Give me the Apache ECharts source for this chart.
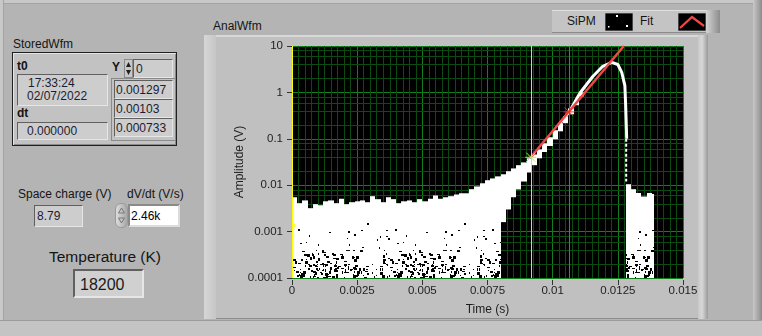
<!DOCTYPE html>
<html>
<head>
<meta charset="utf-8">
<script src="https://cdn.jsdelivr.net/npm/echarts@6.0.0/dist/echarts.min.js"></script>
<style>
*{box-sizing:border-box;}
html,body{margin:0;padding:0;}
body{width:762px;height:336px;position:relative;overflow:hidden;background:#b4b4b4;font-family:"Liberation Sans",Arial,sans-serif;font-size:12px;color:#141414;}
.a{position:absolute;}
.t{position:absolute;white-space:nowrap;line-height:14px;}
.b{font-weight:bold;}
.ind{position:absolute;background:#cdcdcd;border-top:1px solid #606060;border-left:1px solid #606060;border-bottom:1px solid #e6e6e6;border-right:1px solid #e6e6e6;}
.v{color:#1c1c34;}
#chart{position:absolute;left:0;top:0;width:762px;height:336px;}
</style>
</head>
<body>
<!-- panel frame -->
<div class="a" style="left:0;top:0;width:762px;height:4px;background:#c8c8c8;border-bottom:1px solid #a4a4a4;"></div>
<div class="a" style="left:0;top:0;width:4px;height:336px;background:#c8c8c8;border-right:1px solid #a4a4a4;"></div>
<div class="a" style="left:753px;top:0;width:9px;height:336px;background:linear-gradient(90deg,#c8c8c8,#8c8c8c);"></div>
<div class="a" style="left:0;top:320px;width:762px;height:16px;background:#c4c4c4;border-top:1px solid #9c9c9c;"></div>

<!-- StoredWfm cluster -->
<div class="t" style="left:13px;top:37px;">StoredWfm</div>
<div class="a" style="left:12px;top:52px;width:165px;height:94px;background:#c2c2c2;border:1px solid #202020;box-shadow:inset 1px 1px 0 #e4e4e4, inset -1px -1px 0 #8a8a8a;"></div>
<div class="t b" style="left:17px;top:59px;">t0</div>
<div class="ind" style="left:17px;top:74px;width:91px;height:32px;"></div>
<div class="t v" style="left:28px;top:76px;">17:33:24</div>
<div class="t v" style="left:27px;top:89px;">02/07/2022</div>
<div class="t b" style="left:17px;top:106px;">dt</div>
<div class="ind" style="left:17px;top:122px;width:91px;height:18px;"></div>
<div class="t v" style="left:27px;top:124px;">0.000000</div>
<div class="t b" style="left:112px;top:60px;">Y</div>
<div class="a" style="left:124px;top:59px;width:9px;height:19px;background:#c8c8c8;border:1px solid #8a8a8a;"></div>
<svg class="a" style="left:124px;top:59px;" width="9" height="19"><path d="M4.5 3L7 8H2Z M4.5 16L7 11H2Z" fill="#202020"/></svg>
<div class="ind" style="left:133px;top:59px;width:40px;height:19px;"></div>
<div class="t v" style="left:136px;top:62px;">0</div>
<div class="a" style="left:111px;top:78px;width:65px;height:63px;background:#c2c2c2;border:1px solid #8a8a8a;"></div>
<div class="ind" style="left:114px;top:80px;width:59px;height:19px;"></div>
<div class="ind" style="left:114px;top:99px;width:59px;height:19px;"></div>
<div class="ind" style="left:114px;top:118px;width:59px;height:19px;"></div>
<div class="t v" style="left:116px;top:83px;">0.001297</div>
<div class="t v" style="left:116px;top:102px;">0.00103</div>
<div class="t v" style="left:116px;top:121px;">0.000733</div>

<!-- Space charge / dV/dt -->
<div class="t" style="left:18px;top:187px;">Space charge (V)</div>
<div class="ind" style="left:34px;top:205px;width:49px;height:22px;"></div>
<div class="t v" style="left:37px;top:209px;">8.79</div>
<div class="t" style="left:127px;top:187px;">dV/dt (V/s)</div>
<div class="a" style="left:115px;top:203px;width:13px;height:25px;border-radius:6px;background:linear-gradient(90deg,#dcdcdc,#a8a8a8);border:1px solid #9a9a9a;"></div>
<svg class="a" style="left:115px;top:203px;" width="13" height="25"><path d="M6.5 5L9.5 10H3.5Z M6.5 20L9.5 15H3.5Z" fill="none" stroke="#7a7a7a" stroke-width="1"/></svg>
<div class="a" style="left:128px;top:204px;width:52px;height:23px;background:#fff;border-top:2px solid #8a8a8a;border-left:2px solid #8a8a8a;border-bottom:2px solid #dcdcdc;border-right:2px solid #dcdcdc;"></div>
<div class="t" style="left:131px;top:209px;color:#000;">2.46k</div>

<!-- Temperature -->
<div class="t" style="left:49px;top:248px;font-size:15.5px;line-height:18px;">Temperature (K)</div>
<div class="ind" style="left:73px;top:269px;width:71px;height:29px;background:#d0d0d0;border-width:2px;"></div>
<div class="t" style="left:80px;top:276px;font-size:16px;line-height:18px;color:#1a1a1a;">18200</div>

<!-- graph frame -->
<div class="t" style="left:213px;top:19px;">AnalWfm</div>
<div class="a" style="left:204px;top:35px;width:504px;height:284px;background:#c0c0c0;border-top:2px solid #d8d8d8;border-bottom:1px solid #8c8c8c;"></div>
<div class="a" style="left:204px;top:35px;width:12px;height:284px;background:linear-gradient(90deg,#d6d6d6,#c6c6c6);"></div>
<div class="a" style="left:698px;top:35px;width:10px;height:284px;background:linear-gradient(90deg,#c8c8c8,#d8d8d8 40%,#9a9a9a);"></div>

<!-- legend -->
<div class="a" style="left:552px;top:10px;width:168px;height:23px;background:#c4c4c4;border-top:1px solid #e0e0e0;border-bottom:1px solid #8c8c8c;"></div>
<div class="a" style="left:706px;top:10px;width:14px;height:23px;background:linear-gradient(90deg,#d4d4d4,#8c8c8c);"></div>
<div class="t" style="left:567px;top:14px;">SiPM</div>
<svg class="a" style="left:605px;top:13px;" width="28" height="18"><rect x="0" y="0" width="28" height="18" fill="#000" stroke="#8c8c8c"/><rect x="11" y="2" width="2" height="2" fill="#fff"/><rect x="3" y="13" width="1.5" height="1.5" fill="#fff"/><rect x="21" y="12" width="2" height="2" fill="#fff"/></svg>
<div class="t" style="left:640px;top:14px;">Fit</div>
<svg class="a" style="left:678px;top:13px;" width="28" height="18"><rect x="0" y="0" width="28" height="18" fill="#000" stroke="#8c8c8c"/><path d="M2 15L14 4L26 13" fill="none" stroke="#f04848" stroke-width="2.2"/></svg>

<div id="chart"></div>
<script>
// ---------------- data ----------------
const xTicks = [0, 0.0025, 0.005, 0.0075, 0.01, 0.0125, 0.015];
const xTickLabels = ['0', '0.0025', '0.005', '0.0075', '0.01', '0.0125', '0.015'];
const yTicks = [0.0001, 0.001, 0.01, 0.1, 1, 10];
const yTickLabels = ['0.0001', '0.001', '0.01', '0.1', '1', '10'];
const yMinorGrid = [0.0002, 0.0004, 0.0006, 0.0008, 0.002, 0.004, 0.006, 0.008,
  0.02, 0.04, 0.06, 0.08, 0.2, 0.4, 0.6, 0.8, 2, 4, 6, 8];

// SiPM waveform: envelope of the dense white trace, per time bin (bin start, bin end, low, high)
const bandT0 = [0, 0.0002, 0.0004, 0.0006, 0.0008, 0.0010, 0.0012, 0.0014, 0.0016, 0.0018,
  0.0020, 0.0022, 0.0024, 0.0026, 0.0028, 0.0030, 0.0032, 0.0034, 0.0036, 0.0038,
  0.0040, 0.0042, 0.0044, 0.0046, 0.0048, 0.0050, 0.0052, 0.0054, 0.0056, 0.0058,
  0.0060, 0.0062, 0.0064, 0.0066, 0.0068, 0.0070, 0.0072, 0.0074, 0.0076, 0.0078,
  0.0080, 0.0082, 0.0084, 0.0086, 0.0088, 0.0090, 0.0092, 0.0094, 0.0096, 0.0098,
  0.0100, 0.0102, 0.0104, 0.0106, 0.0108, 0.0110,
  0.0128, 0.0130, 0.0132, 0.0134, 0.0136, 0.0138];
const bandT1 = [0.0002, 0.0004, 0.0006, 0.0008, 0.0010, 0.0012, 0.0014, 0.0016, 0.0018, 0.0020,
  0.0022, 0.0024, 0.0026, 0.0028, 0.0030, 0.0032, 0.0034, 0.0036, 0.0038, 0.0040,
  0.0042, 0.0044, 0.0046, 0.0048, 0.0050, 0.0052, 0.0054, 0.0056, 0.0058, 0.0060,
  0.0062, 0.0064, 0.0066, 0.0068, 0.0070, 0.0072, 0.0074, 0.0076, 0.0078, 0.0080,
  0.0082, 0.0084, 0.0086, 0.0088, 0.0090, 0.0092, 0.0094, 0.0096, 0.0098, 0.0100,
  0.0102, 0.0104, 0.0106, 0.0108, 0.0110, 0.0112,
  0.0130, 0.0132, 0.0134, 0.0136, 0.0138, 0.0139];
const bandHigh = [0.0055, 0.0041, 0.0047, 0.0032, 0.0039, 0.0037, 0.0045, 0.0047, 0.0041, 0.0051,
  0.0039, 0.0043, 0.0045, 0.0047, 0.0043, 0.0058, 0.0050, 0.0043, 0.0055, 0.0050,
  0.0041, 0.0045, 0.0047, 0.0043, 0.0050, 0.0045, 0.0051, 0.0060, 0.0051, 0.0055,
  0.0058, 0.0063, 0.0067, 0.0067, 0.0082, 0.0094, 0.011, 0.0128, 0.014, 0.0155,
  0.0172, 0.020, 0.023, 0.027, 0.031, 0.038, 0.046, 0.059, 0.080, 0.108,
  0.153, 0.217, 0.305, 0.454, 0.68, 1.0,
  0.0105, 0.0082, 0.0068, 0.0057, 0.0068, 0.0065];
const bandLow = [0.0001, 0.0001, 0.0001, 0.0001, 0.0001, 0.0001, 0.0001, 0.0001, 0.0001, 0.0001,
  0.0001, 0.0001, 0.0001, 0.0001, 0.0001, 0.0001, 0.0001, 0.0001, 0.0001, 0.0001,
  0.0001, 0.0001, 0.0001, 0.0001, 0.0001, 0.0001, 0.0001, 0.0001, 0.0001, 0.0001,
  0.0001, 0.0001, 0.0001, 0.0001, 0.0001, 0.0001, 0.0001, 0.0001, 0.0001, 0.0001,
  0.0016, 0.0030, 0.0055, 0.0081, 0.012, 0.0188, 0.027, 0.038, 0.052, 0.070,
  0.098, 0.145, 0.217, 0.338, 0.53, 0.82,
  0.0001, 0.0001, 0.0001, 0.0001, 0.0001, 0.0001];

// narrow part of the pulse (peak and fall)
const curveT = [0.0102, 0.01065, 0.01104, 0.01154, 0.01192, 0.01227, 0.0125, 0.01265, 0.01277, 0.0128, 0.01284];
const curveV = [0.19, 0.39, 0.96, 2.2, 3.65, 4.45, 4.0, 2.7, 1.4, 0.53, 0.1];
const dropT = [0.01282, 0.01282];
const dropV = [0.1, 0.012];

// exponential fit (straight on log axis)
const fitT = [0.00916, 0.01273];
const fitV = [0.04, 10];

// cursors
const cursorT = [0, 0.00916, 0.01063];
const cursorV = [0.00126, 0.04, 0.38];
const cursorColor = ['#ffff00', '#a4ff44', '#ff2a2a'];

// ---------------- styling helpers ----------------
function hash(i, j, seed) {
  let h = Math.imul(i + 11, 73856093) ^ Math.imul(j + 7, 19349663) ^ Math.imul(seed + 3, 83492791);
  h = Math.imul(h ^ (h >>> 13), 1274126177); h ^= h >>> 16;
  h = Math.imul(h ^ (h >>> 15), 2246822519); h ^= h >>> 13;
  return h >>> 0;
}
function speckle(density, seed, maxBlob) {
  const W = 97, H = 89;
  const c = document.createElement('canvas');
  c.width = W; c.height = H;
  const g = c.getContext('2d');
  g.fillStyle = '#ffffff'; g.fillRect(0, 0, W, H);
  g.fillStyle = '#000000';
  for (let j = 0; j < H; j++) {
    for (let i = 0; i < W; i++) {
      const h = hash(i, j, seed);
      if ((h % 10000) / 10000 < density) {
        g.fillRect(i, j, 1 + ((h >>> 14) % maxBlob), 1 + ((h >>> 20) % maxBlob));
      }
    }
  }
  return c;
}
const denseTex = speckle(0.085, 3, 3);
const midTex = speckle(0.035, 5, 3);
const sparseTex = speckle(0.006, 9, 2);
const DENSE_TOP = 0.0002, MID_TOP = 0.0004, SPARSE_TOP = 0.0017;

const MAJOR = '#11801a', MINOR = '#0b4a10';
const textColor = '#1e1e1e';
const FONT = '"Liberation Sans", Arial, sans-serif';

const bandData = bandT0.map((t, i) => [t, bandT1[i], bandLow[i], bandHigh[i]]);

const chart = echarts.init(document.getElementById('chart'), null, { renderer: 'canvas' });
chart.setOption({
  animation: false,
  backgroundColor: 'transparent',
  grid: { left: 292, top: 46, width: 391, height: 232, show: true, backgroundColor: '#000', borderWidth: 0, containLabel: false },
  xAxis: {
    type: 'value', min: 0, max: 0.015, interval: 0.0025, offset: 2,
    name: 'Time (s)', nameLocation: 'middle', nameGap: 24, nameMoveOverlap: false,
    nameTextStyle: { color: textColor, fontSize: 12, fontFamily: FONT },
    axisLine: { show: false },
    axisTick: { show: true, length: 5, lineStyle: { color: '#333', width: 1 } },
    axisLabel: { color: textColor, fontSize: 11.5, fontFamily: FONT, margin: 5, showMinLabel: true, showMaxLabel: true,
      formatter: v => { const k = xTicks.findIndex(x => Math.abs(x - v) < 1e-9); return k >= 0 ? xTickLabels[k] : ''; } },
    splitLine: { show: true, lineStyle: { color: MAJOR, width: 1 } },
    minorTick: { show: false, splitNumber: 10 },
    minorSplitLine: { show: true, lineStyle: { color: MINOR, width: 1 } }
  },
  yAxis: {
    type: 'log', logBase: 10, min: 0.0001, max: 10, offset: 1,
    name: 'Amplitude (V)', nameLocation: 'middle', nameGap: 45, nameRotate: 90, nameMoveOverlap: false,
    nameTextStyle: { color: textColor, fontSize: 12, fontFamily: FONT },
    axisLine: { show: false },
    axisTick: { show: true, length: 5, lineStyle: { color: '#333', width: 1 } },
    axisLabel: { color: textColor, fontSize: 11.5, fontFamily: FONT, margin: 8, showMinLabel: true, showMaxLabel: true,
      formatter: v => { const k = yTicks.findIndex(y => Math.abs(Math.log10(y) - Math.log10(v)) < 1e-6); return k >= 0 ? yTickLabels[k] : ''; } },
    splitLine: { show: true, lineStyle: { color: MAJOR, width: 1 } },
    minorSplitLine: { show: false }
  },
  series: [
    { // minor horizontal grid lines (log decades at 2,4,6,8)
      type: 'custom', name: 'minorGrid', z: 1, silent: true, clip: true,
      data: yMinorGrid.map(v => [0, v]), encode: { x: 0, y: 1 },
      renderItem: (params, api) => {
        const cs = params.coordSys;
        const y = Math.round(api.coord([0, api.value(1)])[1]) + 0.5;
        return { type: 'line', shape: { x1: cs.x, y1: y, x2: cs.x + cs.width, y2: y }, style: { stroke: MINOR, lineWidth: 1 } };
      }
    },
    { // SiPM dense trace
      type: 'custom', name: 'SiPM', z: 3, clip: true,
      data: bandData,
      encode: { x: [0, 1], y: [2, 3] },
      renderItem: (params, api) => {
        const t0 = api.value(0), t1 = api.value(1), lo = api.value(2), hi = api.value(3);
        const pa = api.coord([t0, hi]), pb = api.coord([t1, lo]);
        const x = Math.round(pa[0]), w = Math.round(pb[0]) - x;
        const children = [{ type: 'rect', shape: { x: x, y: pa[1], width: w, height: pb[1] - pa[1] }, style: { fill: '#fff' } }];
        if (lo <= 0.0001) {
          const yd = api.coord([t0, Math.min(DENSE_TOP, hi)])[1];
          const ym = api.coord([t0, Math.min(MID_TOP, hi)])[1];
          const ys = api.coord([t0, Math.min(SPARSE_TOP, hi)])[1];
          children.push({ type: 'rect', shape: { x: x, y: ys, width: w, height: ym - ys }, style: { fill: { image: sparseTex, repeat: 'repeat' } } });
          children.push({ type: 'rect', shape: { x: x, y: ym, width: w, height: yd - ym }, style: { fill: { image: midTex, repeat: 'repeat' } } });
          children.push({ type: 'rect', shape: { x: x, y: yd, width: w, height: pb[1] - yd }, style: { fill: { image: denseTex, repeat: 'repeat' } } });
        }
        return { type: 'group', children: children };
      }
    },
    { type: 'line', name: 'SiPM peak', z: 4, symbol: 'none', data: curveT.map((t, i) => [t, curveV[i]]),
      lineStyle: { color: '#fff', width: 3 } },
    { type: 'line', name: 'SiPM drop', z: 4, symbol: 'none', data: dropT.map((t, i) => [t, dropV[i]]),
      lineStyle: { color: '#fff', width: 2, type: [3, 2] } },
    { type: 'line', name: 'Fit', z: 5, symbol: 'none', data: fitT.map((t, i) => [t, fitV[i]]),
      lineStyle: { color: '#f04848', width: 2.5 } },
    { // cursors: vertical line + cross marker
      type: 'custom', name: 'cursors', z: 6, silent: true, clip: true,
      data: cursorT.map((t, i) => [t, cursorV[i], i]), encode: { x: 0, y: 1 },
      renderItem: (params, api) => {
        const cs = params.coordSys;
        const p = api.coord([api.value(0), api.value(1)]);
        const k = api.value(2);
        const col = cursorColor[k];
        const lw = k === 0 ? 2 : 1;
        const x = k === 0 ? Math.round(p[0]) : Math.round(p[0]) + 0.5;
        const r = k === 0 ? 3 : 4.5;
        return { type: 'group', children: [
          { type: 'line', shape: { x1: x, y1: cs.y, x2: x, y2: cs.y + cs.height }, style: { stroke: col, lineWidth: lw } },
          { type: 'line', shape: { x1: p[0] - r, y1: p[1] - r, x2: p[0] + r, y2: p[1] + r }, style: { stroke: col, lineWidth: 1 } },
          { type: 'line', shape: { x1: p[0] + r, y1: p[1] - r, x2: p[0] - r, y2: p[1] + r }, style: { stroke: col, lineWidth: 1 } },
          { type: 'line', shape: { x1: p[0] - r - 1, y1: p[1], x2: p[0] + r + 1, y2: p[1] }, style: { stroke: col, lineWidth: 1 } }
        ] };
      }
    }
  ]
});
</script>
</body>
</html>
